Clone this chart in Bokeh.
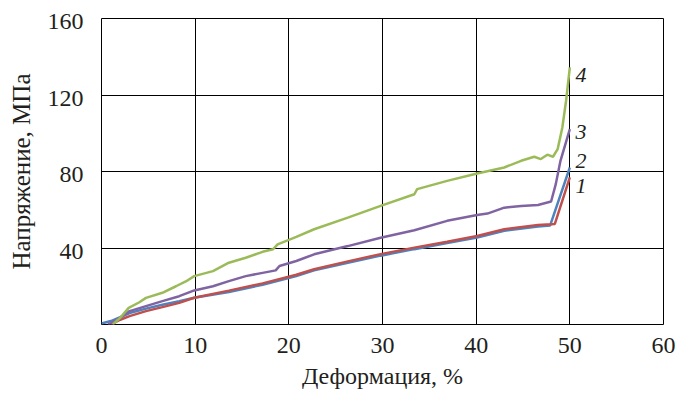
from bokeh.plotting import figure
from bokeh.models import Range1d, FixedTicker, Title
from bokeh.embed import file_html
from bokeh.resources import INLINE
from bokeh.core.properties import value

# ---- data ----
x_ticks = [0, 10, 20, 30, 40, 50, 60]
y_ticks = [40, 80, 120, 160]

x1 = [1.0, 2.0, 3.0, 4.75, 6.5, 8.3, 9.9, 13.6, 17.2, 20.8, 22.7, 26.3, 29.8, 33.4, 36.9, 40.1, 43.0, 46.6, 48.0, 48.4, 50.0]
y1 = [0.0, 2.5, 4.4, 7.0, 9.1, 11.3, 14.0, 17.7, 21.5, 26.0, 28.9, 33.0, 36.8, 40.2, 43.3, 46.3, 49.8, 52.0, 52.4, 52.6, 76.9]

x2 = [0.0, 1.0, 2.0, 3.0, 4.75, 6.5, 8.3, 9.9, 13.6, 17.2, 20.8, 22.7, 26.3, 29.8, 33.4, 36.9, 40.1, 43.0, 46.6, 47.9, 50.0]
y2 = [0.5, 1.8, 3.8, 6.0, 8.3, 10.3, 12.2, 14.0, 17.0, 20.8, 25.3, 28.3, 32.3, 36.0, 39.4, 42.6, 45.5, 49.0, 51.2, 51.8, 82.1]

x3 = [0.7, 2.0, 3.0, 4.75, 6.5, 8.3, 9.9, 11.9, 13.6, 15.4, 17.2, 18.6, 19.0, 20.8, 22.7, 26.3, 29.8, 33.4, 36.9, 40.1, 41.2, 43.0, 44.8, 46.6, 48.0, 48.5, 49.0, 50.0]
y3 = [0.0, 3.5, 7.0, 9.6, 12.2, 14.8, 17.8, 20.0, 22.7, 25.3, 27.0, 28.3, 30.6, 33.2, 36.7, 41.0, 45.4, 49.3, 54.2, 57.3, 58.0, 61.1, 62.0, 62.5, 64.3, 73.4, 85.6, 102.2]

x4 = [1.2, 2.0, 2.9, 4.0, 4.75, 6.5, 7.95, 9.0, 9.9, 11.9, 13.6, 15.4, 17.2, 18.3, 18.8, 20.8, 22.7, 26.3, 29.8, 33.4, 33.7, 36.9, 40.1, 43.0, 44.8, 46.2, 46.9, 47.6, 48.2, 48.7, 49.2, 49.6, 50.0]
y4 = [0.0, 3.5, 8.7, 11.5, 13.9, 16.6, 20.0, 22.5, 25.3, 27.9, 32.3, 34.9, 38.0, 39.3, 41.9, 45.8, 49.8, 55.9, 62.0, 68.1, 70.8, 75.1, 79.0, 82.1, 85.6, 87.7, 86.5, 88.8, 87.7, 91.7, 103.0, 117.0, 134.5]

series_names = ["1", "2", "3", "4"]
label_x = [50.6, 50.6, 50.6, 50.6]
label_y = [72.3, 85.4, 100.4, 130.2]

x_title = "Деформация, %"
y_title = "Напряжение, МПа"

# ---- styling ----
FONT = "Liberation Serif"
TXT = "#231F20"
colors = {"1": "#C0504D", "2": "#4F81BD", "3": "#8064A2", "4": "#9BBB59"}

p = figure(width=677, height=396, output_backend="svg", toolbar_location=None,
           x_range=Range1d(0, 60), y_range=Range1d(0, 160),
           min_border_left=101, min_border_right=14, min_border_top=18, min_border_bottom=72)
p.background_fill_color = "white"
p.border_fill_color = "white"
p.outline_line_color = "black"
p.outline_line_width = 1

for ax in (p.xaxis[0], p.yaxis[0]):
    ax.axis_line_color = None
    ax.major_tick_line_color = None
    ax.minor_tick_line_color = None
    ax.major_label_text_font = FONT
    ax.major_label_text_font_size = "24px"
    ax.major_label_text_line_height = 1.0
    ax.major_label_text_color = TXT
    ax.axis_label_text_font = FONT
    ax.axis_label_text_font_size = "25px"
    ax.axis_label_text_font_style = "normal"
    ax.axis_label_text_line_height = 1.0
    ax.axis_label_text_color = TXT

p.xaxis.ticker = FixedTicker(ticks=x_ticks)
p.xaxis.major_label_standoff = 7

# tick labels of the y axis sit slightly below their grid lines in the reference
y_label_pos = [t - 1.8 for t in y_ticks]
p.yaxis.ticker = FixedTicker(ticks=y_label_pos)
p.yaxis.major_label_overrides = {pos: str(t) for pos, t in zip(y_label_pos, y_ticks)}
p.yaxis.major_label_standoff = 12
p.yaxis.axis_label = y_title
p.yaxis.axis_label_standoff = 10

p.xgrid.ticker = FixedTicker(ticks=x_ticks)
p.ygrid.ticker = FixedTicker(ticks=y_ticks)
p.xgrid.grid_line_color = "black"
p.ygrid.grid_line_color = "black"
p.xgrid.grid_line_width = 1
p.ygrid.grid_line_width = 1

for name, xs, ys in (("2", x2, y2), ("1", x1, y1), ("3", x3, y3), ("4", x4, y4)):
    p.line(xs, ys, line_color=colors[name], line_width=2.5)

p.text(x=label_x, y=label_y, text=series_names, text_font=value(FONT),
       text_font_style="italic", text_font_size="22px", text_color=TXT,
       text_align="left", text_baseline="middle")

p.add_layout(Title(text=x_title, align="center", offset=13, standoff=10,
                   text_font=FONT, text_font_size="24px", text_font_style="normal",
                   text_line_height=1.0, text_color=TXT), "below")

open("out.html", "w").write(file_html(p, INLINE))
